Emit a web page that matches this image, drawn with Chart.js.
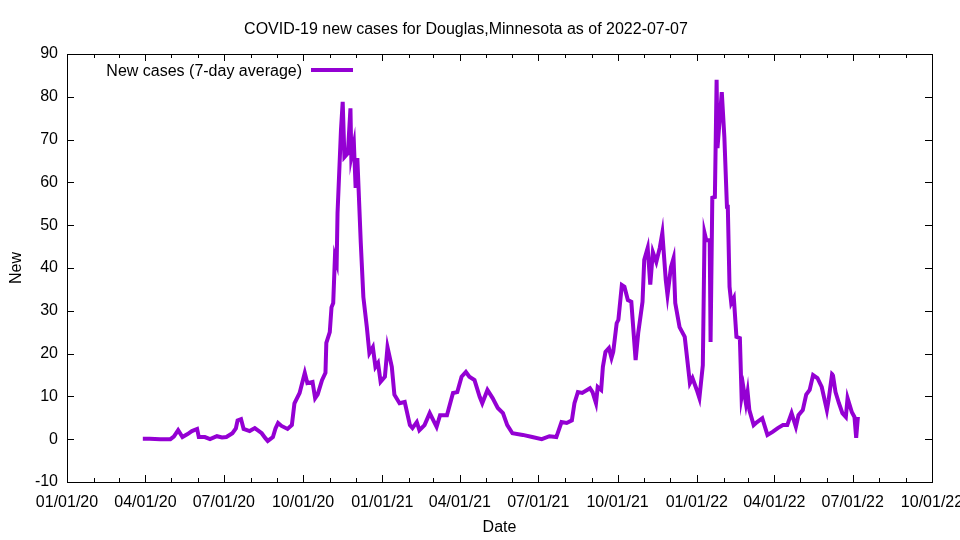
<!DOCTYPE html>
<html>
<head>
<title>COVID-19 new cases - Douglas, Minnesota</title>
<script src="https://cdn.jsdelivr.net/npm/chart.js"></script>
<style>
  body { margin:0; background:#fff; }
  #wrap { width:960px; height:540px; }
</style>
</head>
<body>
<div id="wrap"><canvas id="casesChart" width="960" height="540"></canvas></div>
<script>
// x = days since 01/01/20, y = new cases (7-day average)
const days = [88,96,108,120,124,129,134,140,145,151,153,160,166,174,180,185,192,196,198,202,
  205,212,218,226,230,233,239,242,245,249,256,261,264,270,276,279,285,288,291,296,
  300,301,305,307,309,311,313,314,318,320,322,326,329,330,333,335,337,341,344,348,
  351,355,358,361,364,369,372,377,380,386,392,398,401,406,409,415,421,429,433,441,
  448,453,458,463,467,473,479,482,488,494,500,506,511,517,529,540,551,560,568,574,
  580,586,589,593,598,607,610,614,616,620,622,625,629,632,634,638,640,644,647,651,
  655,660,663,668,670,674,677,680,684,688,691,695,697,701,704,706,711,717,723,726,
  731,734,738,740,742,746,747,749,752,754,755,760,763,766,767,769,771,774,777,781,
  783,785,788,790,792,797,801,807,813,819,825,831,836,841,846,849,854,858,862,866,
  871,876,882,884,888,889,892,896,900,904,906,911,914,916,918];
const newCases = [0.1,0.1,0,0,0.6,2.1,0.5,1.2,1.9,2.4,0.5,0.5,0,0.7,0.4,0.5,1.4,2.5,4.4,4.7,
  2.4,1.9,2.6,1.4,0.3,-0.4,0.5,2.5,3.8,3.1,2.4,3.3,8.4,10.8,15.5,13.1,13.4,9.6,10.5,13.8,
  15.5,22.5,25,30.8,31.8,42.6,41.2,52.8,72.2,78.8,65.9,66.8,77.3,66,69.1,58.7,65.7,45.8,33.2,26.2,
  20.1,21.5,16.9,17.8,13.4,14.6,21.5,16.9,10.4,8.4,8.7,3.3,2.6,4,2.1,3.3,6.1,2.9,5.6,5.6,
  10.8,11,14.6,15.7,14.6,13.8,9.9,8.4,11.5,9.6,7.3,6.1,3.3,1.4,1,0.5,0,0.7,0.5,4,
  3.8,4.4,8.4,11,10.8,11.9,11,8.4,12.2,11.5,16.9,20.4,21.3,19,20.4,27.1,27.9,36,35.6,32.5,
  32.1,18.5,24.8,32.1,41.9,44.7,36.1,43.7,41.4,44.7,48.2,37.2,33.7,40.2,42.3,31.8,26.2,23.9,13.1,14.3,
  11.5,9.6,17.3,48.2,46.5,46.5,22.7,56.4,56.6,84,68,81.1,70.6,54.3,54.3,35.6,31.8,33,23.9,23.6,
  9.9,12.2,8.4,11,6.8,3.3,4,4.9,1,1.7,2.6,3.3,3.3,6.1,2.9,5.6,6.8,10.4,11.5,15,
  14.3,12.2,6.8,9.2,15.2,15,11,8.4,6.1,5.2,9.6,6.3,5.2,0.3,5.2];
const tickLabels = ['01/01/20','04/01/20','07/01/20','10/01/20','01/01/21','04/01/21',
  '07/01/21','10/01/21','01/01/22','04/01/22','07/01/22','10/01/22'];

const DAY0 = Date.UTC(2020,0,1);
function toDay(lbl){
  const p = lbl.split('/');
  return (Date.UTC(2000 + +p[2], +p[0]-1, +p[1]) - DAY0) / 86400000;
}
const tickDays = tickLabels.map(toDay);
const purple = '#9400d3';

Chart.defaults.font.family = '"Liberation Sans", Arial, sans-serif';
Chart.defaults.font.size = 16;
Chart.defaults.color = '#000';

// gnuplot look: border, inward ticks on all four sides, key with sample on the right
const gnuFrame = {
  id:'gnuFrame',
  afterDraw(c){
    const {ctx, chartArea:a, scales:{x, y}} = c;
    ctx.save();
    ctx.strokeStyle = '#000'; ctx.lineWidth = 1;
    ctx.strokeRect(a.left+0.5, a.top+0.5, a.right-a.left, a.bottom-a.top);
    ctx.beginPath();
    tickDays.forEach(d=>{
      const px = Math.round(x.getPixelForValue(d))+0.5;
      ctx.moveTo(px,a.bottom); ctx.lineTo(px,a.bottom-7);
      ctx.moveTo(px,a.top); ctx.lineTo(px,a.top+7);
    });
    for(let m=0; m<=33; m++){
      const d = (Date.UTC(2020,m,1)-DAY0)/86400000;
      if(tickDays.includes(d)) continue;
      const px = Math.round(x.getPixelForValue(d))+0.5;
      ctx.moveTo(px,a.bottom); ctx.lineTo(px,a.bottom-4);
      ctx.moveTo(px,a.top); ctx.lineTo(px,a.top+4);
    }
    y.ticks.forEach(t=>{
      const py = Math.round(y.getPixelForValue(t.value))+0.5;
      ctx.moveTo(a.left,py); ctx.lineTo(a.left+7,py);
      ctx.moveTo(a.right,py); ctx.lineTo(a.right-7,py);
    });
    ctx.stroke();
    // key
    ctx.font = '16px "Liberation Sans", Arial, sans-serif';
    ctx.fillStyle = '#000'; ctx.textAlign = 'right'; ctx.textBaseline = 'middle';
    ctx.fillText(c.data.datasets[0].label, 302, 72);
    ctx.strokeStyle = purple; ctx.lineWidth = 4;
    ctx.beginPath(); ctx.moveTo(311,70); ctx.lineTo(353,70); ctx.stroke();
    ctx.restore();
  }
};

new Chart(document.getElementById('casesChart'), {
  type:'line',
  data:{datasets:[{
    label:'New cases (7-day average)',
    data:days.map((d,i)=>({x:d, y:newCases[i]})),
    borderColor:purple, borderWidth:4, pointRadius:0, tension:0, fill:false
  }]},
  options:{
    responsive:false, animation:false, devicePixelRatio:1,
    layout:{padding:{left:0, right:28, top:0, bottom:0}},
    plugins:{
      legend:{display:false}, tooltip:{enabled:false},
      title:{display:true, text:'COVID-19 new cases for Douglas,Minnesota as of 2022-07-07',
        font:{size:16, weight:'normal'}, padding:{top:20.4, bottom:14.4}}
    },
    scales:{
      x:{type:'linear', min:0, max:1004,
        grid:{display:false, drawTicks:false}, border:{display:false},
        ticks:{padding:11, maxRotation:0, autoSkip:false,
          callback:v=>{ const i = tickDays.indexOf(v); return i<0 ? '' : tickLabels[i]; }},
        afterBuildTicks:s=>{ s.ticks = tickDays.map(v=>({value:v})); },
        afterFit:s=>{ s.height = 58; s.paddingLeft = 0; s.paddingRight = 0; },
        title:{display:true, text:'Date', padding:{top:0, bottom:2.4}}},
      y:{min:-10, max:90,
        grid:{display:false, drawTicks:false}, border:{display:false},
        ticks:{stepSize:10, padding:9},
        afterFit:s=>{ s.width = 67; s.paddingTop = 0; s.paddingBottom = 0; },
        title:{display:true, text:'New', padding:{top:7.4, bottom:0}}}
    }
  },
  plugins:[gnuFrame]
});
</script>
</body>
</html>
